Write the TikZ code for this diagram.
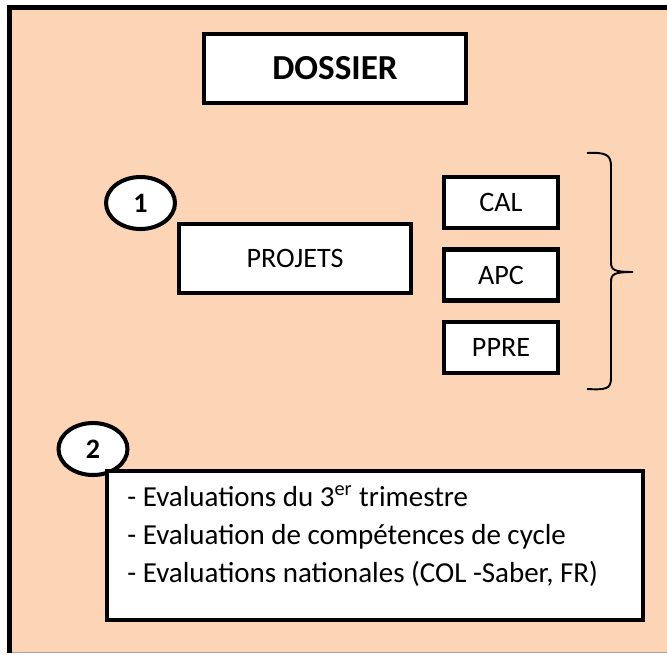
\documentclass[tikz,border=0pt]{standalone}
\usepackage{fontspec}
\setmainfont{Carlito}
\usepackage{tikz}
\usetikzlibrary{shapes.geometric}
\definecolor{peach}{HTML}{FBD5B5}

\begin{document}
\begin{tikzpicture}[x=0.02cm, y=-0.02cm,
        box/.style={draw, fill=white, line width=2.3pt, rectangle},
        numoval/.style={draw, fill=white, line width=2.3pt, ellipse,
            minimum width=1.38cm, minimum height=1.04cm, inner sep=0pt,
            font=\fontsize{16}{19}\selectfont\bfseries}]
        \useasboundingbox (0,0) rectangle (667,654);
        % Background sheet, cut off at the right and bottom
        \begin{scope}
            \clip (0,0) rectangle (667,652.5);
            \draw[line width=2.8pt, fill=peach] (9.5,7.5) rectangle (700,700);
        \end{scope}
        \draw[line width=0.6pt, black!35] (12,652.5) -- (667,652.5);

        % Title box
        \node[box, minimum width=5.24cm, minimum height=1.38cm,
            font=\fontsize{20}{24}\selectfont\bfseries] (dossier) at (335,68.5) {DOSSIER};

        % Part 1: projects
        \node[numoval] (one) at (140.5,203) {1};
        \node[box, minimum width=4.64cm, minimum height=1.38cm,
            font=\fontsize{16}{19}\selectfont] (projets) at (295,258.5) {PROJETS};

        \node[box, minimum width=2.28cm, minimum height=1.02cm,
            font=\fontsize{16}{19}\selectfont] (cal) at (501,202.5) {CAL};
        \node[box, minimum width=2.28cm, minimum height=1.02cm,
            font=\fontsize{16}{19}\selectfont] (apc) at (501,275) {APC};
        \node[box, minimum width=2.28cm, minimum height=1.02cm,
            font=\fontsize{16}{19}\selectfont] (ppre) at (501,347.5) {PPRE};

        % Brace grouping the three small boxes
        \draw[line width=1.1pt] (587,153) .. controls (606,152) and (611,155) .. (611,166)
            -- (611,262) .. controls (611,270) and (614,272) .. (633,272)
            .. controls (614,272) and (611,274) .. (611,282)
            -- (611,378) .. controls (611,389) and (606,390) .. (587,389);

        % Part 2: evaluations
        \node[numoval] (two) at (93,449) {2};
        \node[box, minimum width=10.72cm, minimum height=2.98cm] (evalbox) at (375,545.5) {};
        \node[anchor=west, align=left, inner sep=0pt,
            font=\fontsize{16.5}{21.8}\selectfont] (evaltext) at (127,536)
            {- Evaluations du 3\textsuperscript{er} trimestre\\
             - Evaluation de compétences de cycle\\
             - Evaluations nationales (COL -Saber, FR)};
\end{tikzpicture}
\end{document}
